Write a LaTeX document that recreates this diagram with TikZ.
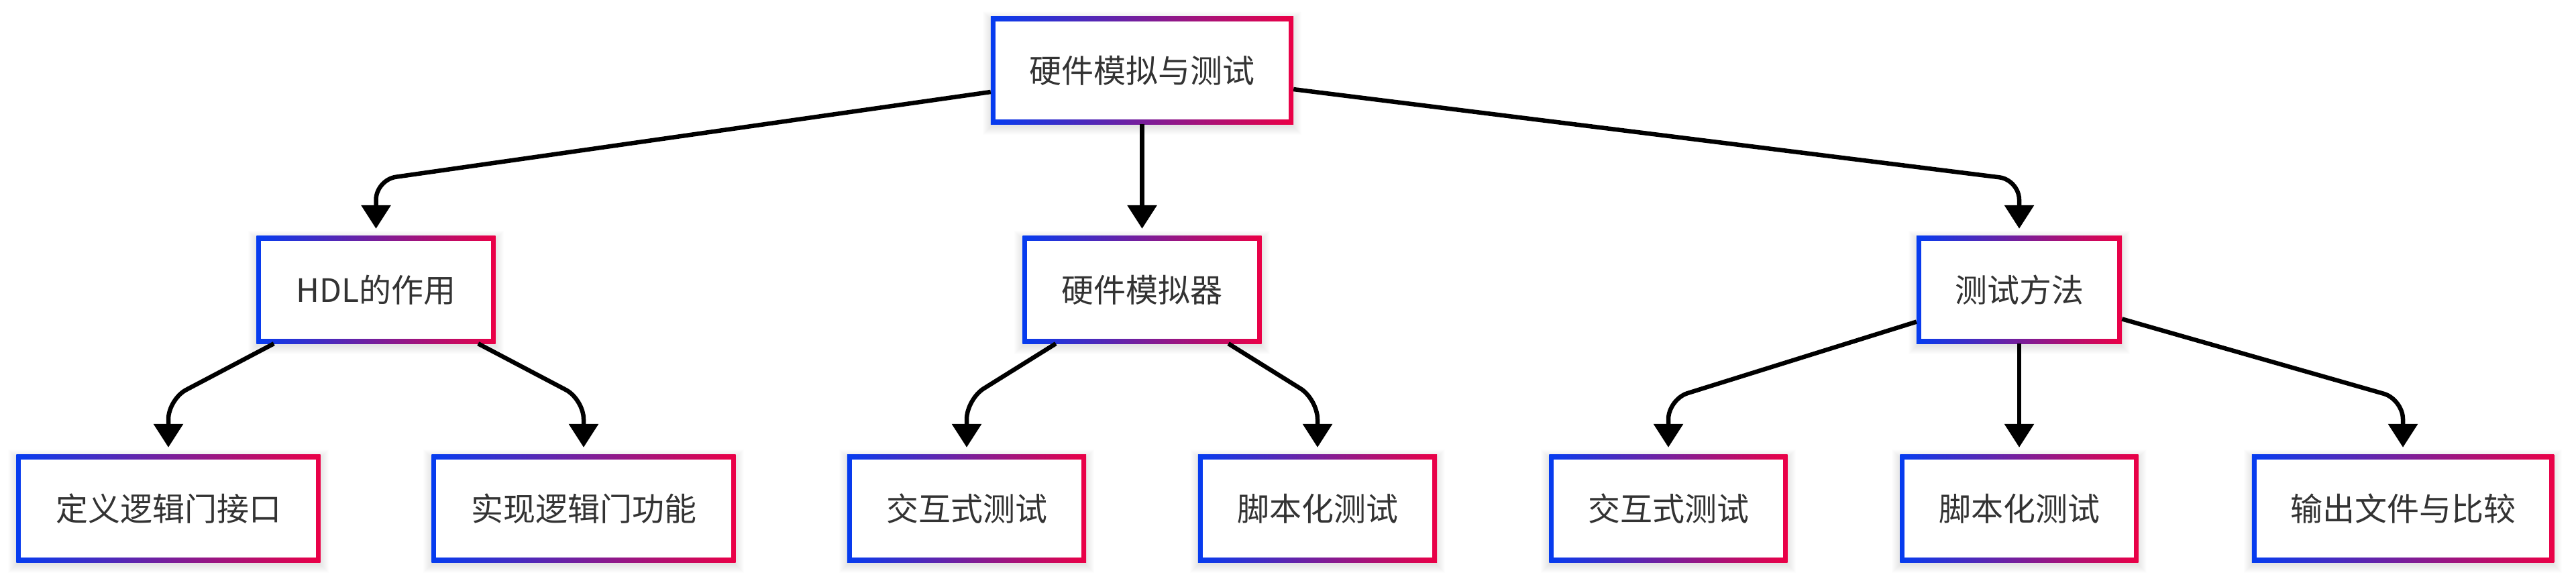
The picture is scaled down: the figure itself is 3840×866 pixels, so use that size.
\documentclass[tikz,border=0pt]{standalone}
\usepackage{fontspec}
\setmainfont{Noto Sans CJK SC}
\usetikzlibrary{arrows.meta,backgrounds}
\definecolor{gblue}{RGB}{5,60,240}
\definecolor{gred}{RGB}{235,0,70}
\definecolor{txt}{RGB}{51,51,51}
\tikzset{
  box/.style={minimum height=160pt, inner sep=0pt, text=txt, font=\fontsize{48}{58}\selectfont},
  conn/.style={draw=black, line width=6.5pt, rounded corners=30pt, -{Triangle[length=35pt,width=43pt]}},
}
\begin{document}
\begin{tikzpicture}[x=1pt,y=-1pt]
\useasboundingbox (0,0) rectangle (3840,866);
% level 1
\node[box, minimum width=451pt] (root) at (1702.5,105) {硬件模拟与测试};
% level 2
\node[box, minimum width=356pt] (hdl) at (560.5,432) {HDL的作用};
\node[box, minimum width=356pt] (sim) at (1702.5,432) {硬件模拟器};
\node[box, minimum width=306pt] (test) at (3010,432) {测试方法};
% level 3
\node[box, minimum width=453pt] (d1) at (251,758) {定义逻辑门接口};
\node[box, minimum width=453pt] (d2) at (870,758) {实现逻辑门功能};
\node[box, minimum width=356pt] (s1) at (1441,758) {交互式测试};
\node[box, minimum width=356pt] (s2) at (1964,758) {脚本化测试};
\node[box, minimum width=355pt] (t1) at (2487,758) {交互式测试};
\node[box, minimum width=355pt] (t2) at (3010,758) {脚本化测试};
\node[box, minimum width=450pt] (t3) at (3582,758) {输出文件与比较};

\begin{scope}[on background layer]
  \fill[white] (0,0) rectangle (3840,866);
  \foreach \n in {root,hdl,sim,test,d1,d2,s1,s2,t1,t2,t3}{
    \foreach \k in {0,...,12}{
      \fill[black,opacity=0.008] ([xshift={-\k*1pt},yshift={-(\k+4)*1pt}]\n.south west) rectangle ([xshift={\k*1pt},yshift={(\k-4)*1pt}]\n.north east);
    }
    \shade[left color=gblue,right color=gred] (\n.south west) rectangle (\n.north east);
    \fill[white] ([shift={(7pt,7pt)}]\n.south west) rectangle ([shift={(-7pt,-7pt)}]\n.north east);
  }
\end{scope}

% connectors level 1 -> 2
\draw[conn] (root) -- (560.5,268) -- ([yshift=11pt]hdl.north);
\draw[conn] (root) -- ([yshift=11pt]sim.north);
\draw[conn] (root) -- (3010,268) -- ([yshift=11pt]test.north);
% connectors level 2 -> 3
\draw[conn] (hdl) -- (251,595) -- ([yshift=11pt]d1.north);
\draw[conn] (hdl) -- (870,595) -- ([yshift=11pt]d2.north);
\draw[conn] (sim) -- (1441,595) -- ([yshift=11pt]s1.north);
\draw[conn] (sim) -- (1964,595) -- ([yshift=11pt]s2.north);
\draw[conn] (test) -- (2487,595) -- ([yshift=11pt]t1.north);
\draw[conn] (test) -- ([yshift=11pt]t2.north);
\draw[conn] (test) -- (3582,595) -- ([yshift=11pt]t3.north);
\end{tikzpicture}
\end{document}
